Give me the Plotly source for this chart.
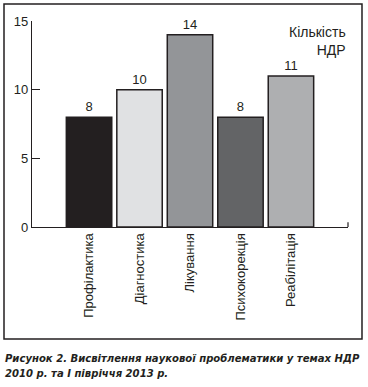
import plotly.graph_objects as go

categories = ["Профілактика", "Діагностика", "Лікування", "Психокорекція", "Реабілітація"]
values = [8, 10, 14, 8, 11]
y_ticks = [0, 5, 10, 15]
bar_colors = ["#231f20", "#e0e1e3", "#939598", "#636466", "#aeafb1"]
legend_text = "Кількість<br>НДР"
caption = "Рисунок 2. Висвітлення наукової проблематики у темах НДР<br>2010 р. та І півріччя 2013 р."

FONT = "Liberation Sans, Arial, sans-serif"
INK = "#231f20"

fig = go.Figure()
fig.add_trace(go.Bar(
    x=list(range(len(categories))),
    y=values,
    width=0.9,
    marker=dict(color=bar_colors, line=dict(color=INK, width=1.5)),
    text=[str(v) for v in values],
    textposition="outside",
    textfont=dict(family=FONT, size=13, color=INK),
    cliponaxis=False,
    showlegend=False,
))

fig.update_layout(
    width=368, height=387,
    margin=dict(l=32, r=20, t=21, b=160),
    paper_bgcolor="white", plot_bgcolor="white",
    font=dict(family=FONT, size=13, color=INK),
    bargap=0.1,
    xaxis=dict(
        range=[-1.13, 5.13],
        tickmode="array",
        tickvals=list(range(len(categories))),
        ticktext=categories,
        tickangle=-90,
        showline=True, linecolor=INK, linewidth=1.2,
        ticks="", showgrid=False, zeroline=False,
        tickfont=dict(family=FONT, size=13, color=INK),
    ),
    yaxis=dict(
        range=[0, 15],
        tickmode="array",
        tickvals=y_ticks,
        showline=True, linecolor=INK, linewidth=1.2,
        ticks="inside", ticklen=8, tickwidth=1.2, tickcolor=INK,
        showgrid=False, zeroline=False,
        tickfont=dict(family=FONT, size=13, color=INK),
    ),
    shapes=[
        dict(type="rect", xref="paper", yref="paper",
             x0=-0.0886, x1=1.0443, y0=-0.5437, y1=1.0825,
             line=dict(color=INK, width=1.5), fillcolor="rgba(0,0,0,0)"),
        dict(type="line", xref="paper", yref="y",
             x0=1, x1=1, y0=0, y1=0.35,
             line=dict(color=INK, width=1.2)),
    ],
    annotations=[
        dict(text=legend_text, xref="paper", yref="paper", x=1.0, y=0.995,
             xanchor="right", yanchor="top", align="right", showarrow=False,
             font=dict(family=FONT, size=14, color=INK)),
        dict(text="<b><i>" + caption + "</i></b>", xref="paper", yref="paper",
             x=-0.0918, y=-0.595, xanchor="left", yanchor="top", align="left",
             showarrow=False,
             font=dict(family="DejaVu Sans Condensed, Roboto, sans-serif", size=11.2, color=INK)),
    ],
)

fig.write_html("out.html", config={"displayModeBar": False},
               post_script="document.body.style.margin='0';document.body.style.overflow='hidden';")
